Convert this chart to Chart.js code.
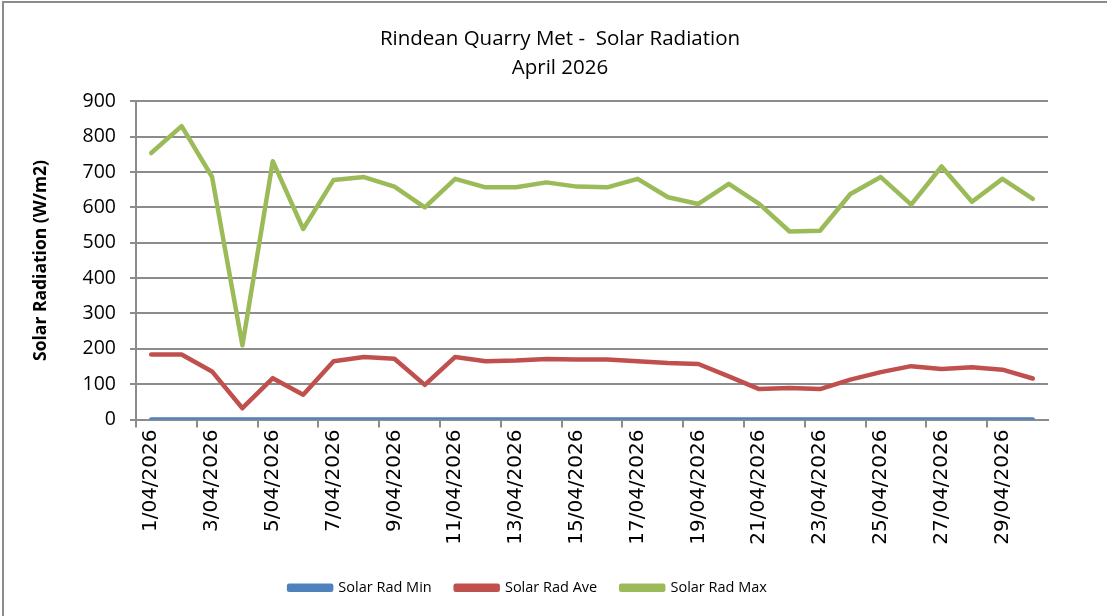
<!DOCTYPE html>
<html>
<head>
<meta charset="utf-8">
<script src="https://cdn.jsdelivr.net/npm/chart.js@4/dist/chart.umd.min.js"></script>
<style>
  html, body { margin: 0; padding: 0; background: #fff; }
  #wrap { width: 1107px; height: 616px; position: relative; }
</style>
</head>
<body>
<div id="wrap"><canvas id="chartCanvas"></canvas></div>
<script>
"use strict";

// dias de abril 2026
const days = [];
for (let d = 1; d <= 30; d++) days.push(d + "/04/2026");

const radMin = [0, 0, 0, 0, 0, 0, 0, 0, 0, 0, 0, 0, 0, 0, 0, 0, 0, 0, 0, 0, 0, 0, 0, 0, 0, 0, 0, 0, 0, 0];
const radAve = [184, 184, 136, 32, 117, 70, 165, 177, 172, 98, 177, 165, 167, 171, 170,
                170, 165, 160, 157, 122, 86, 89, 86, 113, 134, 151, 143, 148, 141, 116];
const radMax = [754, 830, 687, 210, 731, 539, 678, 686, 659, 600, 681, 657, 657, 671, 659,
                657, 681, 629, 610, 667, 610, 532, 534, 638, 686, 608, 716, 616, 681, 624];
const yTicks = [0, 100, 200, 300, 400, 500, 600, 700, 800, 900];

const GRID = "#8c8c8c";
const FONT = "'Open Sans', 'Liberation Sans', sans-serif";

// marco del grafico estilo Excel
const framePlugin = {
  id: "frame",
  afterLayout(chart) {
    // el titulo de Excel va centrado en todo el lienzo
    if (chart.titleBlock) {
      chart.titleBlock.left += 32;
      chart.titleBlock.right += 32;
    }
  },
  afterDraw(chart) {
    const ctx = chart.ctx;
    ctx.save();
    ctx.strokeStyle = "#8c8c8c";
    ctx.lineWidth = 2;
    ctx.beginPath();
    ctx.moveTo(3, chart.height);
    ctx.lineTo(3, 2);
    ctx.lineTo(chart.width, 2);
    ctx.stroke();
    ctx.restore();
  }
};

document.addEventListener("DOMContentLoaded", () => {
  const ctx = document.querySelector("#chartCanvas").getContext("2d");

  const chart = new Chart(ctx, {
    type: "line",
    data: {
      labels: days,
      datasets: [
        { label: "Solar Rad Min", data: radMin, borderColor: "#4F81BD", backgroundColor: "#4F81BD" },
        { label: "Solar Rad Ave", data: radAve, borderColor: "#C0504D", backgroundColor: "#C0504D" },
        { label: "Solar Rad Max", data: radMax, borderColor: "#9BBB59", backgroundColor: "#9BBB59" }
      ].map(ds => Object.assign(ds, {
        borderWidth: 4.5,
        pointRadius: 0,
        tension: 0,
        fill: false,
        borderCapStyle: "round",
        borderJoinStyle: "round"
      }))
    },
    options: {
      responsive: true,
      maintainAspectRatio: false,
      animation: false,
      layout: { padding: { left: 8, right: 59, top: 0, bottom: 11 } },
      plugins: {
        title: {
          display: true,
          text: ["Rindean Quarry Met -  Solar Radiation", "April 2026"],
          color: "#000",
          font: { family: FONT, size: 20.5, weight: "normal", lineHeight: 1.45 },
          padding: { top: 24, bottom: 18 }
        },
        legend: {
          position: "bottom",
          labels: {
            color: "#000",
            font: { family: FONT, size: 14.5 },
            boxWidth: 42,
            boxHeight: 4,
            padding: 24
          }
        },
        tooltip: { enabled: false }
      },
      scales: {
        x: {
          offset: true,
          grid: {
            offset: true,
            drawOnChartArea: false,
            tickLength: 8,
            lineWidth: 2,
            color: c => (c.index % 2 === 0 ? GRID : "rgba(0,0,0,0)")
          },
          border: { color: GRID, width: 2 },
          ticks: {
            autoSkip: false,
            minRotation: 90,
            maxRotation: 90,
            color: "#000",
            font: { family: "'DejaVu Sans', sans-serif", size: 20 },
            padding: 2,
            callback: function (value, index) {
              return index % 2 === 0 ? this.getLabelForValue(value) : "";
            }
          },
          afterFit: scale => { scale.height = 137; }
        },
        y: {
          min: 0,
          max: 900,
          afterBuildTicks: scale => { scale.ticks = yTicks.map(v => ({ value: v })); },
          grid: { color: GRID, lineWidth: 2, tickLength: 6 },
          border: { color: GRID, width: 2 },
          ticks: {
            color: "#000",
            font: { family: FONT, size: 19.5 },
            padding: 14
          },
          title: {
            display: true,
            text: "Solar Radiation (W/m2)",
            color: "#000",
            font: { family: FONT, size: 17.5, weight: "bold" },
            padding: { top: 23, bottom: 0 }
          },
          afterFit: scale => { scale.width = 128; }
        }
      }
    },
    plugins: [framePlugin]
  });
});
</script>
</body>
</html>
